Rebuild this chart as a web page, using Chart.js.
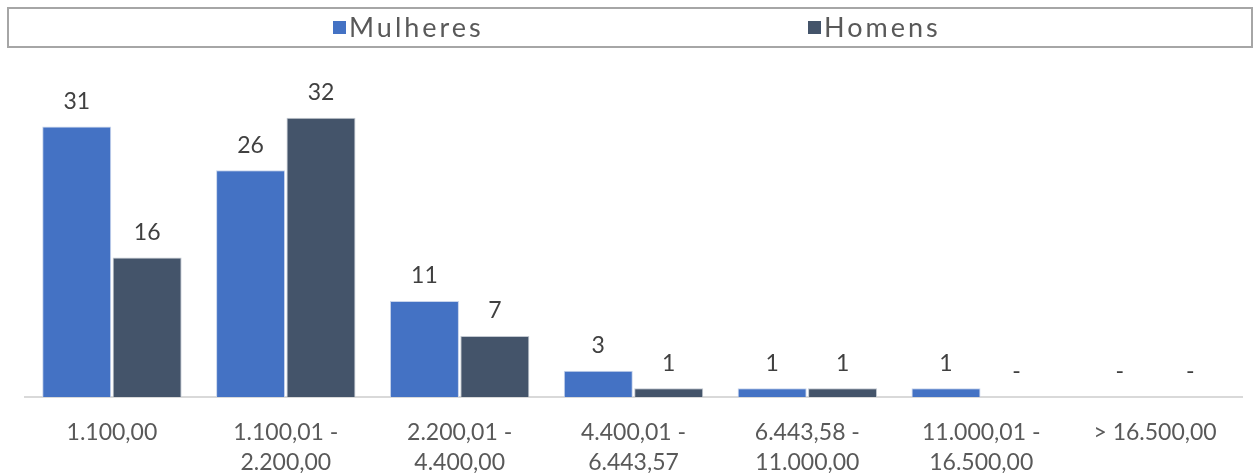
<!DOCTYPE html>
<html>
<head>
<meta charset="utf-8">
<script src="https://cdn.jsdelivr.net/npm/chart.js@4"></script>
<style>
  html, body { margin: 0; padding: 0; background: #fff; }
  #wrap { width: 1255px; height: 473px; }
</style>
</head>
<body>
<div id="wrap"><canvas id="chart" width="1255" height="473"></canvas></div>
<script>
const faixas = [
    ['1.100,00'],
    ['1.100,01 -', '2.200,00'],
    ['2.200,01 -', '4.400,00'],
    ['4.400,01 -', '6.443,57'],
    ['6.443,58 -', '11.000,00'],
    ['11.000,01 -', '16.500,00'],
    ['> 16.500,00']
];
const mulheres = [31, 26, 11, 3, 1, 1, 0];
const homens = [16, 32, 7, 1, 1, 0, 0];

const fontFamily = 'Lato, "Open Sans", sans-serif';

// legenda desenhada numa caixa com borda, como no original
const legendBox = {
    id: 'legendBox',
    afterDraw(chart) {
        const ctx = chart.ctx;
        ctx.save();
        ctx.strokeStyle = '#a6a6a6';
        ctx.lineWidth = 2;
        ctx.strokeRect(8, 8, 1244, 39);
        ctx.font = '27px ' + fontFamily;
        ctx.textBaseline = 'middle';
        const itemX = [333, 808];
        chart.data.datasets.forEach((ds, i) => {
            ctx.fillStyle = ds.backgroundColor;
            ctx.fillRect(itemX[i], 21, 13, 13);
            ctx.fillStyle = '#595959';
            ctx.letterSpacing = '3px';
            ctx.fillText(ds.label, itemX[i] + 16, 28);
        });
        ctx.restore();
    }
};

// rótulos de valor acima das barras ("-" para zero)
const valueLabels = {
    id: 'valueLabels',
    afterDatasetsDraw(chart) {
        const ctx = chart.ctx;
        ctx.save();
        ctx.font = '23px ' + fontFamily;
        ctx.fillStyle = '#404040';
        ctx.textAlign = 'center';
        ctx.textBaseline = 'middle';
        chart.data.datasets.forEach((ds, i) => {
            chart.getDatasetMeta(i).data.forEach((bar, j) => {
                const v = ds.data[j];
                ctx.fillText(v === 0 ? '-' : String(v), bar.x, bar.y - 25);
            });
        });
        ctx.restore();
    }
};

new Chart(document.getElementById('chart').getContext('2d'), {
    type: 'bar',
    data: {
        labels: faixas,
        datasets: [
            { label: 'Mulheres', data: mulheres, backgroundColor: '#4472C4', borderColor: '#c9d5ec', borderWidth: 1 },
            { label: 'Homens', data: homens, backgroundColor: '#44546A', borderColor: '#c3c9d1', borderWidth: 1 }
        ]
    },
    options: {
        responsive: false,
        animation: false,
        layout: { padding: { top: 48, left: 25, right: 13, bottom: 0 } },
        datasets: { bar: { categoryPercentage: 0.81, barPercentage: 0.98 } },
        plugins: {
            legend: { display: false },
            tooltip: { enabled: false }
        },
        scales: {
            x: {
                afterFit(scale) { scale.height = 76; },
                grid: { display: false, drawTicks: false },
                border: { display: true, color: '#d9d9d9', width: 2 },
                ticks: {
                    color: '#595959',
                    padding: 21,
                    maxRotation: 0,
                    autoSkip: false,
                    font: { family: fontFamily, size: 23, lineHeight: 1.3 }
                }
            },
            y: {
                display: false,
                min: 0,
                max: 40
            }
        }
    },
    plugins: [legendBox, valueLabels]
});
</script>
</body>
</html>
